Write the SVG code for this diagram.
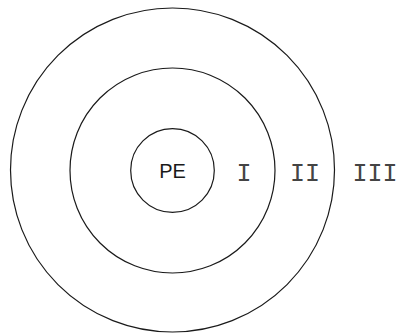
<svg xmlns="http://www.w3.org/2000/svg" width="397" height="333" viewBox="0 0 397 333">
<style>
.ring{fill:none;stroke:#1a1a1a;stroke-width:1.2}
.pe{font-family:"Liberation Sans",Arial,sans-serif;font-size:20px;fill:#1a1a1a;text-anchor:middle}
.rn{font-family:"Liberation Mono","Courier New",monospace;font-size:25px;fill:#444;text-anchor:middle}
</style>
<rect width="397" height="333" fill="#fff"/>
<g id="ring3"><circle class="ring" cx="172.5" cy="170" r="162"/><text class="rn" x="375" y="180.7">III</text></g>
<g id="ring2"><circle class="ring" cx="172.5" cy="170.5" r="102.5"/><text class="rn" x="305" y="180.7">II</text></g>
<g id="ring1"><circle class="ring" cx="172.5" cy="170.5" r="41.8"/><text class="rn" x="244" y="180.7">I</text></g>
<g id="pe"><text class="pe" x="172.5" y="177.9">PE</text></g>
<g id="connectors"/>
</svg>
